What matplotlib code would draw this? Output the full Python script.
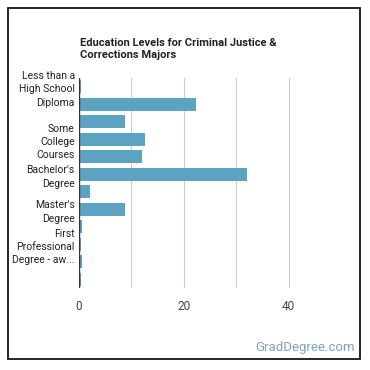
import numpy as np
import matplotlib
matplotlib.use("Agg")
import matplotlib.pyplot as plt
from matplotlib.patches import Rectangle

# data
categories = ["Less than a High School Diploma", "High School Diploma",
              "Post-Secondary Certificate", "Some College Courses",
              "Associate's Degree", "Bachelor's Degree",
              "Post-Baccalaureate Certificate", "Master's Degree",
              "Post-Master's Certificate", "First Professional Degree - awarded",
              "Doctoral Degree", "Post-Doctoral Training"]
values = [0.4, 22.4, 8.8, 12.6, 12.1, 32.0, 2.1, 8.8, 0.6, 0.4, 0.6, 0.3]
# only some labels are drawn (the rest were skipped for room)
shown_labels = ["Less than a\nHigh School\nDiploma", "", "", "Some\nCollege\nCourses",
                "", "Bachelor's\nDegree", "", "Master's\nDegree", "",
                "First\nProfessional\nDegree - aw...", "", ""]
x_ticks = [0, 20, 40]
x_grid = [10, 20, 30, 40]

plt.rcParams['font.family'] = ['Roboto', 'DejaVu Sans']

W = 370
fig = plt.figure(figsize=(3.7, 3.7), dpi=100)
fig.patch.set_facecolor("white")

# outer frame
fig.patches.append(Rectangle((8 / W, 1 - 359 / W), 352 / W, 351 / W, transform=fig.transFigure,
                             fill=False, edgecolor="black", linewidth=1.2))

ax = fig.add_axes([79 / W, 1 - 288 / W, 262 / W, 210 / W])
pos = np.arange(len(categories))
ax.barh(pos, values, height=0.72, color="#5ba3c1", zorder=3)
ax.set_ylim(len(categories) - 0.5, -0.5)
ax.set_xlim(0, 50)

for g in x_grid:
    ax.axvline(g, color="#cccccc", linewidth=0.8, zorder=1)
ax.axvline(0, color="#333333", linewidth=1.0, zorder=4)

ax.set_xticks(x_ticks)
ax.set_xticklabels([str(t) for t in x_ticks], fontsize=8.5, color="#444444")
ax.set_yticks(pos)
ax.set_yticklabels(shown_labels, fontsize=7.5, color="#222222", linespacing=1.42)
ax.tick_params(axis="both", length=0)
ax.tick_params(axis="x", pad=9)
ax.tick_params(axis="y", pad=3)
for s in ax.spines.values():
    s.set_visible(False)

fig.text(80 / W, 1 - 49 / W, "Education Levels for Criminal Justice &\nCorrections Majors",
         fontsize=8, fontweight="bold", color="#222222", ha="left", va="center",
         linespacing=1.25)
fig.text(355 / W, 1 - 347 / W, "GradDegree.com", fontsize=9.5, color="#7ea3ba",
         ha="right", va="center")

fig.savefig("out.png", dpi=100, facecolor="white")
